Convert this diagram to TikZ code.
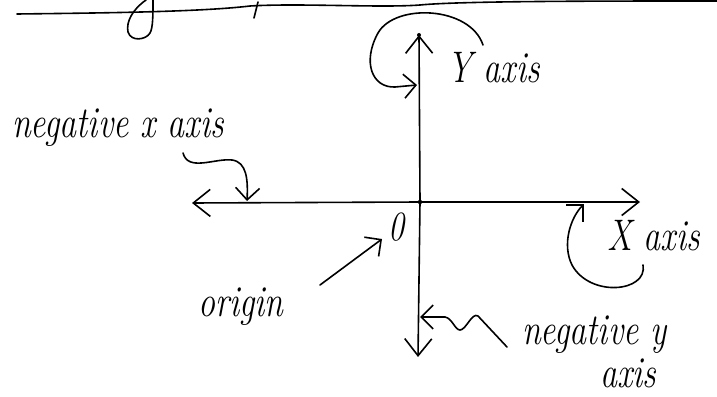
\documentclass[tikz,border=0pt]{standalone}
\usetikzlibrary{arrows.meta}
\newcommand{\hw}[1]{\scalebox{1}[1.3]{#1}}
\begin{document}
\begin{tikzpicture}[x=1pt,y=-1pt,
  hand/.style={font=\fontsize{34}{40}\selectfont\itshape, inner sep=0pt, anchor=base west},
  ink/.style={line width=1.6pt, line cap=round, line join=round},
  barb/.style={ink, -{Straight Barb[length=17pt,width=27pt]}},
  cbarb/.style={ink, -{Straight Barb[length=12pt,width=24pt]}}]
\useasboundingbox (0,0) rectangle (717,396);
% fragment of the line above
\draw[ink] (17,14) .. controls (100,13) and (200,12) .. (250,6)
  .. controls (300,3) and (380,8) .. (420,5) .. controls (460,1) and (600,1) .. (717,1);
\draw[ink] (153,0) .. controls (153,15) and (153,28) .. (150,33)
  .. controls (146,40) and (131,42) .. (128,32) .. controls (126,22) and (132,10) .. (146,0);
\draw[ink] (254,18) -- (258,2);
% axes
\coordinate (O) at (420,202);
\coordinate (xl) at (192,203);
\coordinate (xr) at (640,202);
\coordinate (yt) at (419,35);
\coordinate (yb) at (418,357);
\draw[barb] (O) -- (xl);
\draw[barb] (O) -- (xr);
\draw[barb] (O) -- (yt);
\draw[barb] (O) -- (yb);
\fill (O) circle (2.2);
\fill (yt) circle (2);
% labels
\node[hand] (ylab) at (447,82) {\hw{Y axis}};
\node[hand] (nxlab) at (12,137) {\hw{negative x axis}};
\node[hand] (xlab) at (607,250) {\hw{X axis}};
\node[hand] (olab) at (198,316) {\hw{origin}};
\node[hand] (nylab) at (522,344) {\hw{negative y}};
\node[hand] (nylab2) at (600,387) {\hw{axis}};
\node[font=\fontsize{32}{36}\selectfont\itshape, inner sep=0pt] (zero) at (396,227) {\hw{0}};
% pointer curves
\coordinate (yc0) at (483,45);
\coordinate (yp) at (417,85);
\draw[cbarb] (yc0) .. controls (470,6) and (395,3) .. (378,33)
  .. controls (362,62) and (372,88) .. (395,87) -- (yp);
\coordinate (nx0) at (183,153);
\coordinate (xp) at (247,201);
\draw[cbarb] (nx0) .. controls (188,172) and (215,158) .. (232,160)
  .. controls (247,162) and (248,180) .. (xp);
\coordinate (xc0) at (643,265);
\coordinate (xp2) at (584,204);
\draw[cbarb] (xc0) .. controls (648,292) and (590,298) .. (572,265)
  .. controls (562,245) and (570,218) .. (xp2);
\coordinate (oa) at (320,285);
\coordinate (op) at (382,239);
\draw[cbarb] (oa) -- (op);
\coordinate (ny0) at (507,347);
\coordinate (yq) at (420,317);
\draw[cbarb] (ny0) -- (478,316) .. controls (472,312) and (466,330) .. (460,330)
  .. controls (455,330) and (452,318) .. (445,317) -- (yq);
\end{tikzpicture}
\end{document}
